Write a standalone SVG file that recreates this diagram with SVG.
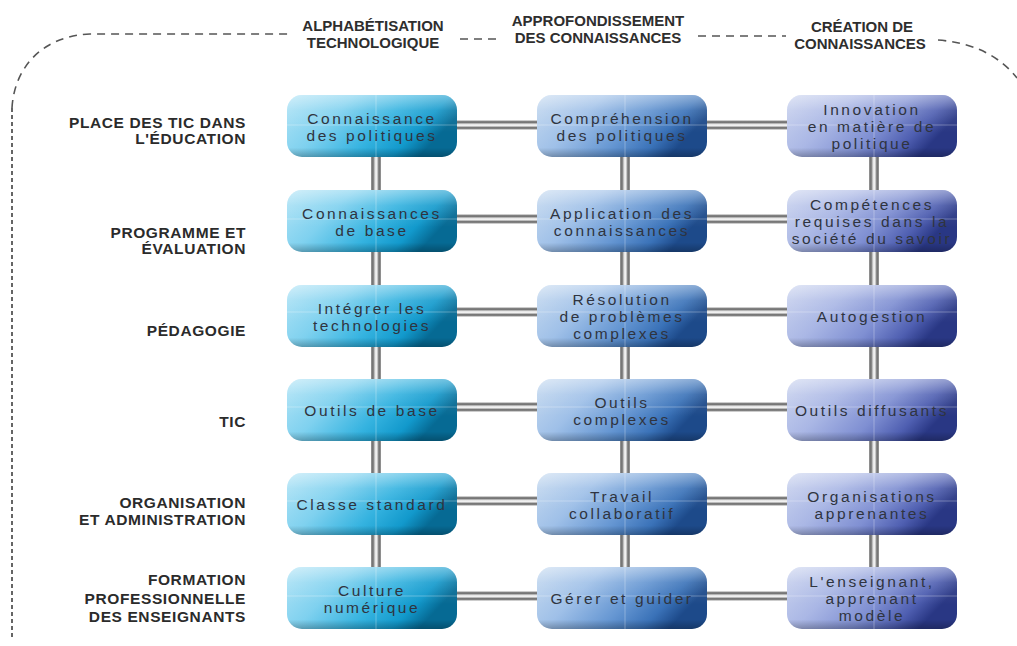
<svg xmlns="http://www.w3.org/2000/svg" width="1017" height="646" viewBox="0 0 1017 646">
<defs>
<linearGradient id="g1" x1="0" y1="0" x2="1" y2="0.35">
<stop offset="0" stop-color="#b2e4f6"/><stop offset="0.35" stop-color="#7fd1ef"/><stop offset="0.65" stop-color="#35b3e0"/><stop offset="0.86" stop-color="#1299cc"/><stop offset="1" stop-color="#066a94"/>
</linearGradient>
<linearGradient id="g2" x1="0" y1="0" x2="1" y2="0.35">
<stop offset="0" stop-color="#c6daf0"/><stop offset="0.35" stop-color="#9fc0e8"/><stop offset="0.65" stop-color="#6596d2"/><stop offset="0.86" stop-color="#3a72b8"/><stop offset="1" stop-color="#1d4a8a"/>
</linearGradient>
<linearGradient id="g3" x1="0" y1="0" x2="1" y2="0.35">
<stop offset="0" stop-color="#cbd4ef"/><stop offset="0.35" stop-color="#aab7e5"/><stop offset="0.65" stop-color="#7f8fd2"/><stop offset="0.86" stop-color="#4f5fb1"/><stop offset="1" stop-color="#293784"/>
</linearGradient>
<linearGradient id="shade" x1="0" y1="0" x2="0" y2="1">
<stop offset="0" stop-color="#fff" stop-opacity="0.4"/><stop offset="0.25" stop-color="#fff" stop-opacity="0.1"/><stop offset="0.6" stop-color="#fff" stop-opacity="0"/><stop offset="0.85" stop-color="#000" stop-opacity="0"/><stop offset="1" stop-color="#000" stop-opacity="0.25"/>
</linearGradient>
<linearGradient id="hbar" x1="0" y1="0" x2="0" y2="1">
<stop offset="0" stop-color="#9a9a9a"/><stop offset="0.2" stop-color="#6a6a6a"/><stop offset="0.42" stop-color="#e6e6e6"/><stop offset="0.58" stop-color="#f2f2f2"/><stop offset="0.8" stop-color="#6a6a6a"/><stop offset="1" stop-color="#9a9a9a"/>
</linearGradient>
<linearGradient id="vbar" x1="0" y1="0" x2="1" y2="0">
<stop offset="0" stop-color="#9a9a9a"/><stop offset="0.2" stop-color="#6a6a6a"/><stop offset="0.42" stop-color="#e6e6e6"/><stop offset="0.58" stop-color="#f2f2f2"/><stop offset="0.8" stop-color="#6a6a6a"/><stop offset="1" stop-color="#9a9a9a"/>
</linearGradient>
</defs>
<style>
.hd{font-family:"Liberation Sans",Arial,sans-serif;font-weight:bold;font-size:15px;fill:#2e2e2e;text-anchor:middle}
.rl{font-family:"Liberation Sans",Arial,sans-serif;font-weight:bold;font-size:15.5px;letter-spacing:0.6px;fill:#2b2b2b;text-anchor:end}
.nt{font-family:"Liberation Sans",Arial,sans-serif;font-size:15.5px;letter-spacing:2.6px;fill:#2f3440;text-anchor:middle}
.b1{fill:url(#g1)}.b2{fill:url(#g2)}.b3{fill:url(#g3)}
.sh{fill:url(#shade)}
.hb{fill:url(#hbar)}.vb{fill:url(#vbar)}
.dash{fill:none;stroke:#555;stroke-width:1.6;stroke-dasharray:8 6}
.dashv{fill:none;stroke:#555;stroke-width:1.8;stroke-dasharray:4 3}
.gl{stroke:#fff;stroke-opacity:0.3;stroke-width:1;fill:none}
</style>
<rect width="1017" height="646" fill="#fff"/>

<g id="border">
<path class="dashv" d="M12 637 L12 108"/>
<path class="dash" d="M12 108 C14 70 40 36 90 34 L290 34"/>
<path class="dash" d="M460 39 L500 39"/>
<path class="dash" d="M698 36 L786 36"/>
<path class="dash" d="M938 40 Q990 44 1017 78"/>
</g>

<g id="headers">
<text class="hd" x="373" y="31">ALPHABÉTISATION</text>
<text class="hd" x="373" y="48">TECHNOLOGIQUE</text>
<text class="hd" x="598" y="26">APPROFONDISSEMENT</text>
<text class="hd" x="598" y="43">DES CONNAISSANCES</text>
<text class="hd" x="862" y="32">CRÉATION DE</text>
<text class="hd" x="860" y="49">CONNAISSANCES</text>
</g>

<g id="row-labels">
<text class="rl" x="246" y="128">PLACE DES TIC DANS</text>
<text class="rl" x="246" y="144">L'ÉDUCATION</text>
<text class="rl" x="246" y="238">PROGRAMME ET</text>
<text class="rl" x="246" y="254">ÉVALUATION</text>
<text class="rl" x="246" y="336">PÉDAGOGIE</text>
<text class="rl" x="246" y="427">TIC</text>
<text class="rl" x="246" y="508">ORGANISATION</text>
<text class="rl" x="246" y="525">ET ADMINISTRATION</text>
<text class="rl" x="246" y="585">FORMATION</text>
<text class="rl" x="246" y="604">PROFESSIONNELLE</text>
<text class="rl" x="246" y="622">DES ENSEIGNANTS</text>
</g>

<g id="connectors">
<rect class="hb" x="450" y="120.5" width="95" height="9"/>
<rect class="hb" x="700" y="120.5" width="95" height="9"/>
<rect class="hb" x="450" y="214.5" width="95" height="9"/>
<rect class="hb" x="700" y="214.5" width="95" height="9"/>
<rect class="hb" x="450" y="307.5" width="95" height="9"/>
<rect class="hb" x="700" y="307.5" width="95" height="9"/>
<rect class="hb" x="450" y="402.5" width="95" height="9"/>
<rect class="hb" x="700" y="402.5" width="95" height="9"/>
<rect class="hb" x="450" y="496.5" width="95" height="9"/>
<rect class="hb" x="700" y="496.5" width="95" height="9"/>
<rect class="hb" x="450" y="591.5" width="95" height="9"/>
<rect class="hb" x="700" y="591.5" width="95" height="9"/>
<rect class="vb" x="371" y="150" width="10" height="47"/>
<rect class="vb" x="371" y="245" width="10" height="47"/>
<rect class="vb" x="371" y="340" width="10" height="46"/>
<rect class="vb" x="371" y="434" width="10" height="46"/>
<rect class="vb" x="371" y="528" width="10" height="46"/>
<rect class="vb" x="620" y="150" width="10" height="47"/>
<rect class="vb" x="620" y="245" width="10" height="47"/>
<rect class="vb" x="620" y="340" width="10" height="46"/>
<rect class="vb" x="620" y="434" width="10" height="46"/>
<rect class="vb" x="620" y="528" width="10" height="46"/>
<rect class="vb" x="869" y="150" width="10" height="47"/>
<rect class="vb" x="869" y="245" width="10" height="47"/>
<rect class="vb" x="869" y="340" width="10" height="46"/>
<rect class="vb" x="869" y="434" width="10" height="46"/>
<rect class="vb" x="869" y="528" width="10" height="46"/>
</g>

<!-- Row 1 -->
<g id="n-r1c1"><rect class="b1" x="287" y="95" width="170" height="62" rx="15"/><rect class="sh" x="287" y="95" width="170" height="62" rx="15"/><path class="gl" d="M376 95V157M287 125H457"/>
<text class="nt" x="372" y="123.5">Connaissance</text><text class="nt" x="372" y="140.5">des politiques</text></g>
<g id="n-r1c2"><rect class="b2" x="537" y="95" width="170" height="62" rx="15"/><rect class="sh" x="537" y="95" width="170" height="62" rx="15"/><path class="gl" d="M625 95V157M537 125H707"/>
<text class="nt" x="622" y="123.5">Compréhension</text><text class="nt" x="622" y="140.5">des politiques</text></g>
<g id="n-r1c3"><rect class="b3" x="787" y="95" width="170" height="62" rx="15"/><rect class="sh" x="787" y="95" width="170" height="62" rx="15"/><path class="gl" d="M874 95V157M787 125H957"/>
<text class="nt" x="872" y="115">Innovation</text><text class="nt" x="872" y="132">en matière de</text><text class="nt" x="872" y="149">politique</text></g>

<!-- Row 2 -->
<g id="n-r2c1"><rect class="b1" x="287" y="190" width="170" height="62" rx="15"/><rect class="sh" x="287" y="190" width="170" height="62" rx="15"/><path class="gl" d="M376 190V252M287 219H457"/>
<text class="nt" x="372" y="218.5">Connaissances</text><text class="nt" x="372" y="235.5">de base</text></g>
<g id="n-r2c2"><rect class="b2" x="537" y="190" width="170" height="62" rx="15"/><rect class="sh" x="537" y="190" width="170" height="62" rx="15"/><path class="gl" d="M625 190V252M537 219H707"/>
<text class="nt" x="622" y="218.5">Application des</text><text class="nt" x="622" y="235.5">connaissances</text></g>
<g id="n-r2c3"><rect class="b3" x="787" y="190" width="170" height="62" rx="15"/><rect class="sh" x="787" y="190" width="170" height="62" rx="15"/><path class="gl" d="M874 190V252M787 219H957"/>
<text class="nt" x="872" y="210">Compétences</text><text class="nt" x="872" y="227">requises dans la</text><text class="nt" x="872" y="244">société du savoir</text></g>

<!-- Row 3 -->
<g id="n-r3c1"><rect class="b1" x="287" y="285" width="170" height="62" rx="15"/><rect class="sh" x="287" y="285" width="170" height="62" rx="15"/><path class="gl" d="M376 285V347M287 312H457"/>
<text class="nt" x="372" y="313.5">Intégrer les</text><text class="nt" x="372" y="330.5">technologies</text></g>
<g id="n-r3c2"><rect class="b2" x="537" y="285" width="170" height="62" rx="15"/><rect class="sh" x="537" y="285" width="170" height="62" rx="15"/><path class="gl" d="M625 285V347M537 312H707"/>
<text class="nt" x="622" y="305">Résolution</text><text class="nt" x="622" y="322">de problèmes</text><text class="nt" x="622" y="339">complexes</text></g>
<g id="n-r3c3"><rect class="b3" x="787" y="285" width="170" height="62" rx="15"/><rect class="sh" x="787" y="285" width="170" height="62" rx="15"/><path class="gl" d="M874 285V347M787 312H957"/>
<text class="nt" x="872" y="322">Autogestion</text></g>

<!-- Row 4 -->
<g id="n-r4c1"><rect class="b1" x="287" y="379" width="170" height="62" rx="15"/><rect class="sh" x="287" y="379" width="170" height="62" rx="15"/><path class="gl" d="M376 379V441M287 407H457"/>
<text class="nt" x="372" y="416">Outils de base</text></g>
<g id="n-r4c2"><rect class="b2" x="537" y="379" width="170" height="62" rx="15"/><rect class="sh" x="537" y="379" width="170" height="62" rx="15"/><path class="gl" d="M625 379V441M537 407H707"/>
<text class="nt" x="622" y="407.5">Outils</text><text class="nt" x="622" y="424.5">complexes</text></g>
<g id="n-r4c3"><rect class="b3" x="787" y="379" width="170" height="62" rx="15"/><rect class="sh" x="787" y="379" width="170" height="62" rx="15"/><path class="gl" d="M874 379V441M787 407H957"/>
<text class="nt" x="872" y="416">Outils diffusants</text></g>

<!-- Row 5 -->
<g id="n-r5c1"><rect class="b1" x="287" y="473" width="170" height="62" rx="15"/><rect class="sh" x="287" y="473" width="170" height="62" rx="15"/><path class="gl" d="M376 473V535M287 501H457"/>
<text class="nt" x="372" y="510">Classe standard</text></g>
<g id="n-r5c2"><rect class="b2" x="537" y="473" width="170" height="62" rx="15"/><rect class="sh" x="537" y="473" width="170" height="62" rx="15"/><path class="gl" d="M625 473V535M537 501H707"/>
<text class="nt" x="622" y="501.5">Travail</text><text class="nt" x="622" y="518.5">collaboratif</text></g>
<g id="n-r5c3"><rect class="b3" x="787" y="473" width="170" height="62" rx="15"/><rect class="sh" x="787" y="473" width="170" height="62" rx="15"/><path class="gl" d="M874 473V535M787 501H957"/>
<text class="nt" x="872" y="501.5">Organisations</text><text class="nt" x="872" y="518.5">apprenantes</text></g>

<!-- Row 6 -->
<g id="n-r6c1"><rect class="b1" x="287" y="567" width="170" height="62" rx="15"/><rect class="sh" x="287" y="567" width="170" height="62" rx="15"/><path class="gl" d="M376 567V629M287 596H457"/>
<text class="nt" x="372" y="595.5">Culture</text><text class="nt" x="372" y="612.5">numérique</text></g>
<g id="n-r6c2"><rect class="b2" x="537" y="567" width="170" height="62" rx="15"/><rect class="sh" x="537" y="567" width="170" height="62" rx="15"/><path class="gl" d="M625 567V629M537 596H707"/>
<text class="nt" x="622" y="604">Gérer et guider</text></g>
<g id="n-r6c3"><rect class="b3" x="787" y="567" width="170" height="62" rx="15"/><rect class="sh" x="787" y="567" width="170" height="62" rx="15"/><path class="gl" d="M874 567V629M787 596H957"/>
<text class="nt" x="872" y="587">L'enseignant,</text><text class="nt" x="872" y="604">apprenant</text><text class="nt" x="872" y="621">modèle</text></g>
</svg>
